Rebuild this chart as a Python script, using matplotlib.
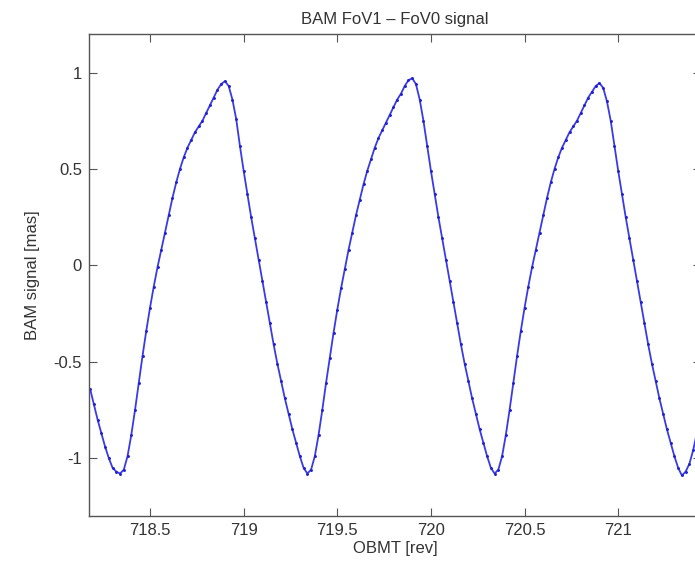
import matplotlib
matplotlib.use("Agg")
import matplotlib.pyplot as plt

plt.rcParams['font.family'] = ['Liberation Sans', 'DejaVu Sans']
plt.rcParams['axes.unicode_minus'] = False

# OBMT sample times [rev]
obmt = [
    718.18, 718.20, 718.22, 718.24, 718.26, 718.28, 718.30, 718.32,
    718.34, 718.36, 718.38, 718.40, 718.42, 718.44, 718.46, 718.48, 718.50, 718.52,
    718.54, 718.56, 718.58, 718.60, 718.62, 718.64, 718.66, 718.68, 718.70, 718.72,
    718.74, 718.76, 718.78, 718.80, 718.82, 718.84, 718.86, 718.88, 718.90, 718.92,
    718.94, 718.96, 718.98, 719.00, 719.02, 719.04, 719.06, 719.08, 719.10, 719.12,
    719.14, 719.16, 719.18, 719.20, 719.22, 719.24, 719.26, 719.28, 719.30, 719.32,
    719.34, 719.36, 719.38, 719.40, 719.42, 719.44, 719.46, 719.48, 719.50, 719.52,
    719.54, 719.56, 719.58, 719.60, 719.62, 719.64, 719.66, 719.68, 719.70, 719.72,
    719.74, 719.76, 719.78, 719.80, 719.82, 719.84, 719.86, 719.88, 719.90, 719.92,
    719.94, 719.96, 719.98, 720.00, 720.02, 720.04, 720.06, 720.08, 720.10, 720.12,
    720.14, 720.16, 720.18, 720.20, 720.22, 720.24, 720.26, 720.28, 720.30, 720.32,
    720.34, 720.36, 720.38, 720.40, 720.42, 720.44, 720.46, 720.48, 720.50, 720.52,
    720.54, 720.56, 720.58, 720.60, 720.62, 720.64, 720.66, 720.68, 720.70, 720.72,
    720.74, 720.76, 720.78, 720.80, 720.82, 720.84, 720.86, 720.88, 720.90, 720.92,
    720.94, 720.96, 720.98, 721.00, 721.02, 721.04, 721.06, 721.08, 721.10, 721.12,
    721.14, 721.16, 721.18, 721.20, 721.22, 721.24, 721.26, 721.28, 721.30, 721.32,
    721.34, 721.36, 721.38, 721.40, 721.42, 721.44,
]

# FoV1 - FoV0 basic angle signal [mas]
signal = [
    -0.64, -0.72, -0.80, -0.87, -0.94, -1.00, -1.05, -1.07,
    -1.08, -1.06, -0.99, -0.88, -0.75, -0.61, -0.47, -0.34, -0.22, -0.11,
    -0.01, 0.08, 0.17, 0.26, 0.35, 0.43, 0.50, 0.56, 0.61, 0.65,
    0.69, 0.72, 0.75, 0.79, 0.83, 0.87, 0.91, 0.94, 0.955, 0.93,
    0.86, 0.76, 0.62, 0.49, 0.37, 0.25, 0.14, 0.03, -0.08, -0.19,
    -0.30, -0.41, -0.51, -0.60, -0.69, -0.77, -0.85, -0.92, -0.99, -1.05,
    -1.08, -1.06, -0.99, -0.88, -0.75, -0.61, -0.48, -0.35, -0.23, -0.12,
    -0.02, 0.08, 0.17, 0.26, 0.34, 0.42, 0.49, 0.55, 0.61, 0.66,
    0.70, 0.74, 0.78, 0.82, 0.86, 0.89, 0.93, 0.96, 0.97, 0.94,
    0.86, 0.75, 0.62, 0.49, 0.37, 0.25, 0.14, 0.03, -0.08, -0.19,
    -0.30, -0.41, -0.51, -0.60, -0.69, -0.77, -0.85, -0.92, -0.99, -1.05,
    -1.08, -1.06, -0.99, -0.88, -0.75, -0.61, -0.47, -0.34, -0.22, -0.11,
    -0.01, 0.08, 0.17, 0.26, 0.35, 0.43, 0.50, 0.56, 0.61, 0.65,
    0.69, 0.72, 0.75, 0.79, 0.83, 0.87, 0.90, 0.93, 0.945, 0.92,
    0.85, 0.75, 0.62, 0.49, 0.37, 0.25, 0.14, 0.03, -0.08, -0.19,
    -0.30, -0.41, -0.51, -0.60, -0.69, -0.77, -0.85, -0.92, -0.99, -1.05,
    -1.09, -1.07, -1.03, -0.96, -0.87, -0.76,
]

xticks = [718.5, 719, 719.5, 720, 720.5, 721]
xticklabels = ['718.5', '719', '719.5', '720', '720.5', '721']
yticks = [-1, -0.5, 0, 0.5, 1]
yticklabels = ['-1', '-0.5', '0', '0.5', '1']

fig = plt.figure(figsize=(6.95, 5.62), dpi=100)
ax = fig.add_axes([0.128, 0.0819, 0.8806, 0.8577])

# dense dotted trace, drawn as a thin line with small dots on it
ax.plot(obmt, signal, color='#3a3ae6', lw=1.3, solid_capstyle='round')
ax.plot(obmt, signal, '.', color='#2020d0', ms=2.2)

ax.set_xlim(718.174, 721.442)
ax.set_ylim(-1.3, 1.2)
ax.set_xticks(xticks)
ax.set_xticklabels(xticklabels)
ax.set_yticks(yticks)
ax.set_yticklabels(yticklabels)

for s in ax.spines.values():
    s.set_color('#555555')
    s.set_linewidth(1.0)
ax.tick_params(direction='in', top=True, right=True, length=6,
               color='#555555', labelcolor='#333333', labelsize=12, pad=5)

ax.set_title('BAM FoV1 \u2013 FoV0 signal', fontsize=12, color='#333333', pad=7)
ax.set_xlabel('OBMT [rev]', fontsize=12, color='#333333', labelpad=2)
ax.set_ylabel('BAM signal [mas]', fontsize=12, color='#333333', labelpad=10)

fig.savefig('out.png', dpi=100, facecolor='white')
